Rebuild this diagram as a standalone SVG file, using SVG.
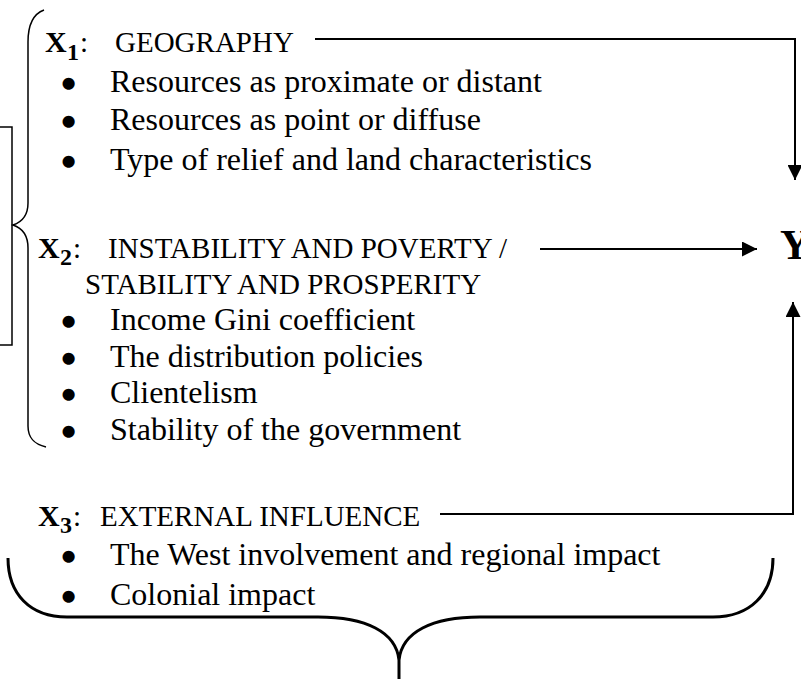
<svg xmlns="http://www.w3.org/2000/svg" width="801" height="679" viewBox="0 0 801 679">
<defs>
<style>
.h{font-family:"Liberation Serif","Times New Roman",serif;font-size:29px;fill:#000}
.b{font-family:"Liberation Serif","Times New Roman",serif;font-size:32px;fill:#000}
.xb{font-family:"Liberation Serif","Times New Roman",serif;font-size:30px;font-weight:bold;fill:#000}
.sub{font-family:"Liberation Serif","Times New Roman",serif;font-size:24px;font-weight:bold;fill:#000}
.dot{font-family:"Liberation Serif","Times New Roman",serif;font-size:32px;fill:#000;stroke:#000;stroke-width:4.5}
.ln{fill:none;stroke:#000;stroke-width:2}
.br{fill:none;stroke:#000;stroke-width:1.5}
</style>
<marker id="ah" viewBox="0 0 10 10" refX="10" refY="5" markerWidth="17" markerHeight="15" markerUnits="userSpaceOnUse" orient="auto">
<path d="M0,0 L10,5 L0,10 z" fill="#000"/>
</marker>
</defs>
<rect width="801" height="679" fill="#fff"/>

<g id="left-bracket">
<path class="br" d="M0 127 H12 V345 H0"/>
<path class="br" d="M44 10 C33 14 28 24 28 42 L28 203 C28 216 22 222 13 225 C22 228 28 234 28 248 L28 426 C28 438 34 444 46 447"/>
</g>

<g id="x1">
<text class="xb" x="45" y="52">X</text><text class="sub" x="67" y="60">1</text><text class="h" x="80" y="52">:</text>
<text class="h" x="115" y="52">GEOGRAPHY</text>
<text class="dot" x="63" y="95">•</text><text class="b" x="110" y="92">Resources as proximate or distant</text>
<text class="dot" x="63" y="133">•</text><text class="b" x="110" y="130">Resources as point or diffuse</text>
<text class="dot" x="63" y="173">•</text><text class="b" x="110" y="170">Type of relief and land characteristics</text>
</g>

<g id="x2">
<text class="xb" x="38" y="258">X</text><text class="sub" x="60" y="265">2</text><text class="h" x="73" y="258">:</text>
<text class="h" x="108" y="258">INSTABILITY AND POVERTY /</text>
<text class="h" x="85" y="294">STABILITY AND PROSPERITY</text>
<text class="dot" x="63" y="333">•</text><text class="b" x="110" y="330">Income Gini coefficient</text>
<text class="dot" x="63" y="370">•</text><text class="b" x="110" y="367">The distribution policies</text>
<text class="dot" x="63" y="406">•</text><text class="b" x="110" y="403">Clientelism</text>
<text class="dot" x="63" y="443">•</text><text class="b" x="110" y="440">Stability of the government</text>
</g>

<g id="x3">
<text class="xb" x="38" y="526">X</text><text class="sub" x="60" y="533">3</text><text class="h" x="73" y="526">:</text>
<text class="h" x="100" y="526">EXTERNAL INFLUENCE</text>
<text class="dot" x="63" y="568">•</text><text class="b" x="110" y="565">The West involvement and regional impact</text>
<text class="dot" x="63" y="608">•</text><text class="b" x="110" y="605">Colonial impact</text>
</g>

<g id="y">
<text x="780" y="259" style="font-family:'Liberation Serif','Times New Roman',serif;font-size:42px;font-weight:bold;fill:#000">Y</text>
</g>

<g id="bottom-brace">
<path d="M8 558 C8 594 30 617 67 617 L318 617 C366 617 396 632 399 660 C402 632 432 617 480 617 L713 617 C750 617 773 594 773 558 M399 660 L399 679" fill="none" stroke="#000" stroke-width="3"/>
</g>

<g id="connectors">
<path class="ln" d="M315 39 H795 V180" marker-end="url(#ah)"/>
<path class="ln" d="M540 249 H757" marker-end="url(#ah)"/>
<path class="ln" d="M440 514 H793 V302" marker-end="url(#ah)"/>
</g>
</svg>
